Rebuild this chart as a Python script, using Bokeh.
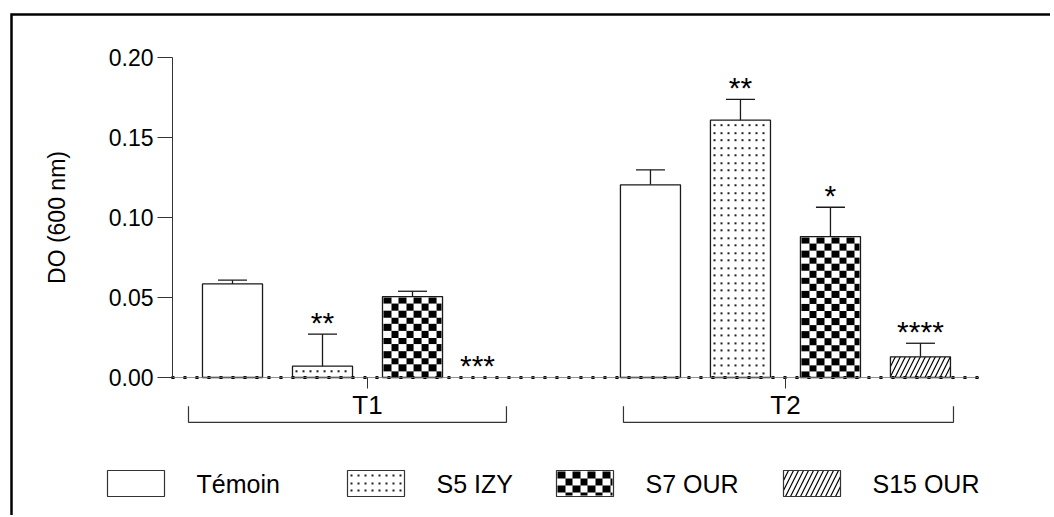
import numpy as np
from bokeh.plotting import figure
from bokeh.models import (Range1d, LinearAxis, FixedTicker, Whisker, TeeHead, ColumnDataSource,
                          PrintfTickFormatter)
from bokeh.core.properties import value
from bokeh.embed import file_html
from bokeh.resources import INLINE

# ---------------- data ----------------
groups = ["T1", "T2"]
series = ["Témoin", "S5 IZY", "S7 OUR", "S15 OUR"]
temoin_mean = [0.0585, 0.1204]
temoin_sem = [0.0023, 0.0094]
s5_mean = [0.0071, 0.1608]
s5_sem = [0.0200, 0.0130]
s7_mean = [0.0506, 0.0881]
s7_sem = [0.0033, 0.0183]
s15_mean = [0.0, 0.0129]
s15_sem = [0.0, 0.0085]
temoin_sig = ["", ""]
s5_sig = ["**", "**"]
s7_sig = ["", "*"]
s15_sig = ["***", "****"]
y_ticks = [0.0, 0.05, 0.10, 0.15, 0.20]
y_label = "DO (600 nm)"

# ---------------- layout constants ----------------
W, H = 1050, 515
PX_X, PX_Y = 90.0, 1600.0
X0_PX, Y0_PX = 232.0, 377.0          # canvas px of data origin
GROUP_STEP = 4.644
BAR_W = 0.667
Y_AXIS_X = -0.667
X_AXIS_END = 8.289
x_start = -X0_PX / PX_X
x_end = x_start + W / PX_X
y_end = Y0_PX / PX_Y
y_start = -(H - Y0_PX) / PX_Y
FONT = "Liberation Sans"
INK = "#1a1a1a"
# legend geometry (canvas px)
LEG_BOX_LEFT = [107, 347, 556, 783]
LEG_BOX_W, LEG_TOP, LEG_BOTTOM = 57, 470, 496
LEG_TEXT_GAP = 32
# manual nudge of the significance mark placed where no bar is drawn (px)
SIG_SHIFT_NO_BAR_PX = -25


def dx(px):
    return (px - X0_PX) / PX_X


def dy(py):
    return (Y0_PX - py) / PX_Y


p = figure(width=W, height=H, x_range=Range1d(x_start, x_end), y_range=Range1d(y_start, y_end),
           x_axis_type=None, y_axis_type=None, toolbar_location=None, output_backend="svg",
           min_border=0, outline_line_color=None, background_fill_color="white",
           border_fill_color="white")
if p.title is not None:
    p.title.visible = False

# frame border (top + left)
bx = x_start + 11 / PX_X
by = y_end - 14 / PX_Y
p.line(x=[bx, bx, x_end], y=[y_start, by, by], line_color="black", line_width=2.5, line_join="miter")


# ---------------- pattern images ----------------
def rgba(mask, color):
    img = np.full(mask.shape, 0xFFFFFFFF, dtype=np.uint32)
    img[mask] = color
    return img


def checker_img(w, h):
    yy, xx = np.mgrid[0:h, 0:w]
    yt = h - 1 - yy
    mask = ((np.floor(xx / 7.5) + np.floor(yt / 6.7)) % 2) == 0
    return rgba(mask, 0xFF000000)


def dots_img(w, h):
    yy, xx = np.mgrid[0:h, 0:w]
    yt = h - 1 - yy
    mask = (((xx - 2) % 7) < 2) & (((yt - 3) % 7.5) < 1.7)
    return rgba(mask, 0xFF202020)


pattern_funcs = [None, dots_img, checker_img, None]
hatch_styles = [dict(), dict(), dict(),
                dict(hatch_pattern="/", hatch_scale=10, hatch_weight=1.2, hatch_color="black")]

series_data = [
    (series[0], temoin_mean, temoin_sem, temoin_sig),
    (series[1], s5_mean, s5_sem, s5_sig),
    (series[2], s7_mean, s7_sem, s7_sig),
    (series[3], s15_mean, s15_sem, s15_sig),
]


def add_pattern(func, left, bottom, width, height):
    wpx = int(round(width * PX_X))
    hpx = int(round(height * PX_Y))
    if wpx < 1 or hpx < 1:
        return
    p.image_rgba(image=[func(wpx, hpx)], x=left, y=bottom, dw=width, dh=height)


wb, wl, wu = [], [], []
sx, sy, st, sdx = [], [], [], []
for si, (name, means, sems, sigs) in enumerate(series_data):
    xs = [gi * GROUP_STEP + si for gi in range(len(groups))]
    keep = [i for i, m in enumerate(means) if m > 0]
    func = pattern_funcs[si]
    if func is not None:
        for i in keep:
            add_pattern(func, xs[i] - BAR_W / 2 + 1 / PX_X, 0, BAR_W - 2 / PX_X, means[i] - 1 / PX_Y)
    src = ColumnDataSource(dict(x=[xs[i] for i in keep], top=[means[i] for i in keep]))
    p.vbar(x="x", top="top", bottom=0, width=BAR_W, source=src,
           fill_color=None if func is not None else "white",
           line_color=INK, line_width=1.3, **hatch_styles[si])
    for i in range(len(groups)):
        if sems[i] > 0:
            wb.append(xs[i]); wl.append(means[i]); wu.append(means[i] + sems[i])
        if sigs[i]:
            sx.append(xs[i]); sy.append(means[i] + sems[i]); st.append(sigs[i])
            sdx.append(SIG_SHIFT_NO_BAR_PX if means[i] == 0 else 0)

    # legend entry
    lx0 = dx(LEG_BOX_LEFT[si])
    lx1 = dx(LEG_BOX_LEFT[si] + LEG_BOX_W)
    ly0, ly1 = dy(LEG_BOTTOM), dy(LEG_TOP)
    if func is not None:
        add_pattern(func, lx0 + 1 / PX_X, ly0 + 1 / PX_Y, lx1 - lx0 - 2 / PX_X, ly1 - ly0 - 2 / PX_Y)
    p.quad(left=[lx0], right=[lx1], bottom=[ly0], top=[ly1],
           fill_color=None if func is not None else "white",
           line_color="#333333", line_width=1.2, **hatch_styles[si])
    p.text(x=[dx(LEG_BOX_LEFT[si] + LEG_BOX_W + LEG_TEXT_GAP)], y=[(ly0 + ly1) / 2], text=[name],
           text_font=value(FONT), text_font_size="25px", text_align="left",
           text_baseline="middle", text_color="black")

wsrc = ColumnDataSource(dict(base=wb, lower=wl, upper=wu))
p.add_layout(Whisker(source=wsrc, base="base", lower="lower", upper="upper", dimension="height",
                     line_color=INK, line_width=1.3, lower_head=None,
                     upper_head=TeeHead(size=29, line_color=INK, line_width=1.3)))

ssrc = ColumnDataSource(dict(x=sx, y=sy, text=st, xoff=sdx))
p.text(x="x", y="y", text="text", source=ssrc, text_font=value(FONT), text_font_size="30px",
       text_align="center", text_baseline="alphabetic", x_offset="xoff", y_offset=-12,
       text_color="black")

# dotted baseline
p.line(x=[Y_AXIS_X, X_AXIS_END], y=[0, 0], line_width=3, line_dash="1 11", line_cap="round",
       line_color="black")

# group brackets
bracket_x0 = [-0.489, 4.344]
bracket_x1 = [3.044, 8.011]
bracket_top, bracket_bottom = -0.018, -0.028
p.multi_line(xs=[[a, a, b, b] for a, b in zip(bracket_x0, bracket_x1)],
             ys=[[bracket_top, bracket_bottom, bracket_bottom, bracket_top]] * len(groups),
             line_color="#333333", line_width=1.2)

# axes
yaxis = LinearAxis(fixed_location=Y_AXIS_X, bounds=(0, 0.2), ticker=FixedTicker(ticks=y_ticks),
                   formatter=PrintfTickFormatter(format="%.2f"), axis_label=y_label)
yaxis.axis_line_color = "#333333"
yaxis.major_tick_line_color = "#333333"
yaxis.major_tick_out = 15
yaxis.major_tick_in = 0
yaxis.minor_tick_out = 0
yaxis.minor_tick_in = 0
yaxis.major_label_standoff = 4
yaxis.major_label_text_font = FONT
yaxis.major_label_text_font_size = "23px"
yaxis.major_label_text_color = "black"
yaxis.axis_label_text_font = FONT
yaxis.axis_label_text_font_size = "23px"
yaxis.axis_label_text_font_style = "normal"
yaxis.axis_label_text_color = "black"
yaxis.axis_label_standoff = 36
p.add_layout(yaxis, "left")

centers = [gi * GROUP_STEP + (len(series) - 1) / 2 for gi in range(len(groups))]
xaxis = LinearAxis(fixed_location=0, bounds=(Y_AXIS_X, X_AXIS_END), ticker=FixedTicker(ticks=centers),
                   major_label_overrides={c: g for c, g in zip(centers, groups)})
xaxis.axis_line_color = "#777777"
xaxis.axis_line_width = 0.8
xaxis.major_tick_line_color = "#333333"
xaxis.major_tick_out = 11
xaxis.major_tick_in = 0
xaxis.minor_tick_out = 0
xaxis.minor_tick_in = 0
xaxis.major_label_standoff = 1
xaxis.major_label_text_font = FONT
xaxis.major_label_text_font_size = "26px"
xaxis.major_label_text_color = "black"
p.add_layout(xaxis, "below")

open("out.html", "w").write(file_html(p, INLINE))
